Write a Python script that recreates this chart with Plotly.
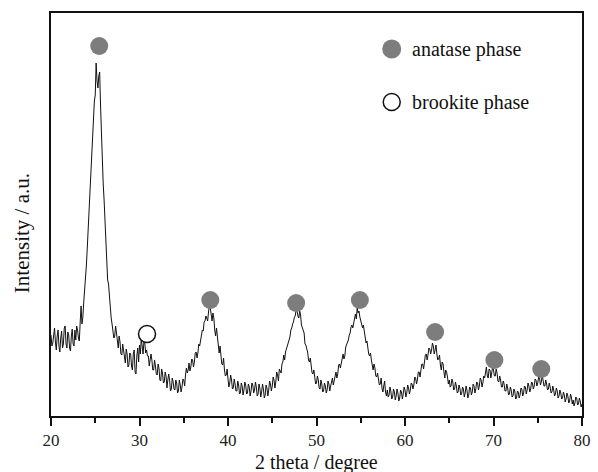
import plotly.graph_objects as go

# 2-theta grid (degrees), 0.1 degree step from 20 to 80
two_theta_start = 20.0
two_theta_step = 0.1

# Intensity (a.u.), one value per 0.1 degree
intensity = [
    81, 70, 73, 84, 88, 74, 66, 80, 86, 70,        # 20
    64, 78, 85, 68, 72, 88, 90, 72, 68, 84,        # 21
    81, 68, 65, 80, 87, 72, 70, 86, 76, 90,        # 22
    86, 78, 75, 94, 110, 92, 99, 114, 124, 140,    # 23
    151, 168, 186, 205, 226, 246, 266, 282, 298, 315,  # 24
    321, 353, 335, 328, 340, 344, 310, 280, 250, 232,  # 25
    216, 192, 168, 150, 136, 132, 118, 108, 98, 92,    # 26
    86, 78, 80, 90, 83, 70, 68, 80, 74, 62,        # 27
    61, 72, 66, 55, 53, 67, 62, 49, 51, 63,        # 28
    62, 50, 46, 62, 66, 44, 42, 60, 68, 54,        # 29
    71, 62, 78, 70, 62, 74, 73, 63, 66, 60,        # 30
    60, 50, 55, 62, 56, 46, 46, 56, 50, 42,        # 31
    41, 52, 48, 36, 35, 47, 43, 33, 34, 44,        # 32
    40, 28, 36, 42, 36, 25, 27, 38, 34, 27,        # 33
    26, 36, 33, 23, 25, 36, 31, 24, 29, 37,        # 34
    36, 30, 41, 48, 43, 46, 53, 45, 49, 57,        # 35
    56, 49, 54, 63, 64, 58, 63, 72, 70, 75,        # 36
    79, 86, 85, 94, 95, 100, 98, 95, 104, 111,     # 37
    108, 98, 95, 103, 98, 86, 80, 88, 78, 68,      # 38
    63, 70, 60, 52, 51, 58, 46, 40, 41, 47,        # 39
    37, 29, 33, 41, 36, 27, 28, 37, 32, 25,        # 40
    25, 35, 31, 22, 23, 33, 30, 21, 26, 34,        # 41
    31, 22, 23, 32, 29, 20, 25, 33, 31, 23,        # 42
    26, 34, 29, 20, 22, 32, 28, 19, 24, 32,        # 43
    27, 18, 21, 31, 28, 20, 26, 35, 32, 25,        # 44
    30, 39, 36, 28, 34, 44, 41, 35, 47, 44,        # 45
    43, 52, 54, 61, 56, 64, 67, 72, 74, 78,        # 46
    79, 86, 88, 92, 94, 99, 100, 107, 105, 100,    # 47
    98, 105, 101, 91, 88, 87, 83, 72, 71, 67,      # 48
    64, 56, 54, 58, 50, 43, 42, 46, 39, 32,        # 49
    33, 40, 36, 28, 27, 36, 32, 24, 25, 33,        # 50
    30, 23, 26, 35, 32, 25, 30, 37, 38, 31,        # 51
    36, 43, 44, 38, 42, 51, 52, 48, 54, 61,        # 52
    62, 57, 60, 69, 71, 73, 76, 81, 83, 89,        # 53
    91, 88, 94, 100, 102, 97, 108, 103, 105, 99,   # 54
    96, 91, 88, 91, 84, 77, 73, 75, 68, 62,        # 55
    60, 63, 56, 48, 46, 52, 48, 40, 39, 43,        # 56
    36, 31, 32, 38, 28, 24, 30, 35, 24, 20,        # 57
    26, 19, 21, 29, 25, 17, 19, 27, 24, 16,        # 58
    20, 27, 23, 15, 18, 26, 24, 17, 22, 29,        # 59
    26, 19, 23, 31, 28, 22, 26, 33, 32, 27,        # 60
    31, 39, 38, 32, 36, 44, 44, 39, 46, 52,        # 61
    52, 47, 54, 61, 62, 56, 61, 68, 67, 62,        # 62
    66, 73, 70, 62, 66, 71, 62, 56, 57, 61,        # 63
    51, 46, 54, 52, 44, 38, 46, 44, 39, 32,        # 64
    36, 29, 30, 37, 34, 26, 27, 34, 30, 23,        # 65
    24, 31, 28, 21, 22, 29, 27, 19, 23, 30,        # 66
    26, 18, 21, 29, 28, 21, 24, 32, 30, 23,        # 67
    27, 34, 33, 26, 30, 38, 36, 29, 33, 40,        # 68
    38, 45, 49, 40, 38, 47, 46, 38, 42, 49,        # 69
    46, 40, 40, 47, 43, 35, 34, 40, 36, 29,        # 70
    29, 35, 32, 25, 25, 32, 28, 21, 22, 29,        # 71
    26, 19, 20, 27, 25, 17, 18, 25, 24, 18,        # 72
    21, 28, 27, 20, 23, 30, 29, 22, 26, 33,        # 73
    30, 24, 27, 34, 33, 27, 30, 37, 36, 30,        # 74
    33, 39, 38, 31, 34, 41, 36, 30, 30, 36,        # 75
    32, 26, 27, 33, 29, 23, 24, 30, 26, 20,        # 76
    22, 28, 25, 18, 20, 26, 23, 17, 18, 24,        # 77
    21, 14, 17, 23, 20, 13, 15, 22, 19, 12,        # 78
    16, 10, 13, 19, 18, 11, 12, 18, 15, 9,         # 79
    12,                                            # 80
]
two_theta = [round(two_theta_start + two_theta_step * i, 2) for i in range(len(intensity))]

# Phase markers
anatase_x = [25.45, 38.0, 47.7, 54.9, 63.4, 70.1, 75.4]
anatase_y = [370, 116, 113, 116, 84, 56, 47]
brookite_x = [30.85]
brookite_y = [82]

legend_labels = ["anatase phase", "brookite phase"]
x_tick_vals = [20, 30, 40, 50, 60, 70, 80]

FONT = "Liberation Serif, Times New Roman, serif"
GRAY = "#7d7d7d"
INK = "#111111"

fig = go.Figure()
fig.add_trace(go.Scatter(
    x=two_theta, y=intensity, mode="lines",
    line=dict(color=INK, width=1), hoverinfo="skip", showlegend=False,
))
fig.add_trace(go.Scatter(
    x=anatase_x, y=anatase_y, mode="markers",
    marker=dict(size=18, color=GRAY, line=dict(width=0)), showlegend=False,
))
fig.add_trace(go.Scatter(
    x=brookite_x, y=brookite_y, mode="markers",
    marker=dict(size=17, color="white", line=dict(width=1.5, color=INK)),
    showlegend=False,
))

# Legend drawn inside the plot, upper right
leg_x = 58.5
leg_rows_y = [367, 314]
fig.add_shape(type="circle", xref="x", yref="y", xsizemode="pixel", ysizemode="pixel",
              xanchor=leg_x, yanchor=leg_rows_y[0], x0=-9.5, x1=9.5, y0=-9.5, y1=9.5,
              fillcolor=GRAY, line=dict(width=0))
fig.add_shape(type="circle", xref="x", yref="y", xsizemode="pixel", ysizemode="pixel",
              xanchor=leg_x, yanchor=leg_rows_y[1], x0=-8.5, x1=8.5, y0=-8.5, y1=8.5,
              fillcolor="white", line=dict(width=1.5, color=INK))
for lab, yy in zip(legend_labels, leg_rows_y):
    fig.add_annotation(x=leg_x, y=yy, xref="x", yref="y", text=lab, showarrow=False,
                       xanchor="left", yanchor="middle", xshift=18,
                       font=dict(family=FONT, size=20, color=INK))

# Axis titles
fig.add_annotation(x=0.5, y=0, xref="paper", yref="paper", text="2 theta / degree",
                   showarrow=False, xanchor="center", yanchor="middle", yshift=-46,
                   font=dict(family=FONT, size=20, color=INK))
fig.add_annotation(x=0, y=0.4537, xref="paper", yref="paper", text="Intensity / a.u.",
                   showarrow=False, textangle=-90, xanchor="center", yanchor="middle",
                   xshift=-29, font=dict(family=FONT, size=21, color=INK))

fig.update_layout(
    width=598, height=472,
    margin=dict(l=50.7, r=7.3, t=13, b=56.3),
    paper_bgcolor="white", plot_bgcolor="white",
    showlegend=False,
    font=dict(family=FONT, color=INK),
)
fig.update_xaxes(
    range=[20, 80], tickvals=x_tick_vals, ticks="outside", ticklen=8, tickwidth=1.5,
    tickcolor=INK, showline=True, linecolor=INK, linewidth=1.5, mirror=True,
    showgrid=False, zeroline=False, tickfont=dict(family=FONT, size=17, color="#222222"),
    minor=dict(dtick=5, tick0=20, ticks="outside", ticklen=5, tickwidth=1.5, tickcolor=INK),
)
fig.update_yaxes(
    range=[0, 403], showticklabels=False, ticks="", showline=True, linecolor=INK,
    linewidth=1.5, mirror=True, showgrid=False, zeroline=False,
)

fig.write_html("out.html")
